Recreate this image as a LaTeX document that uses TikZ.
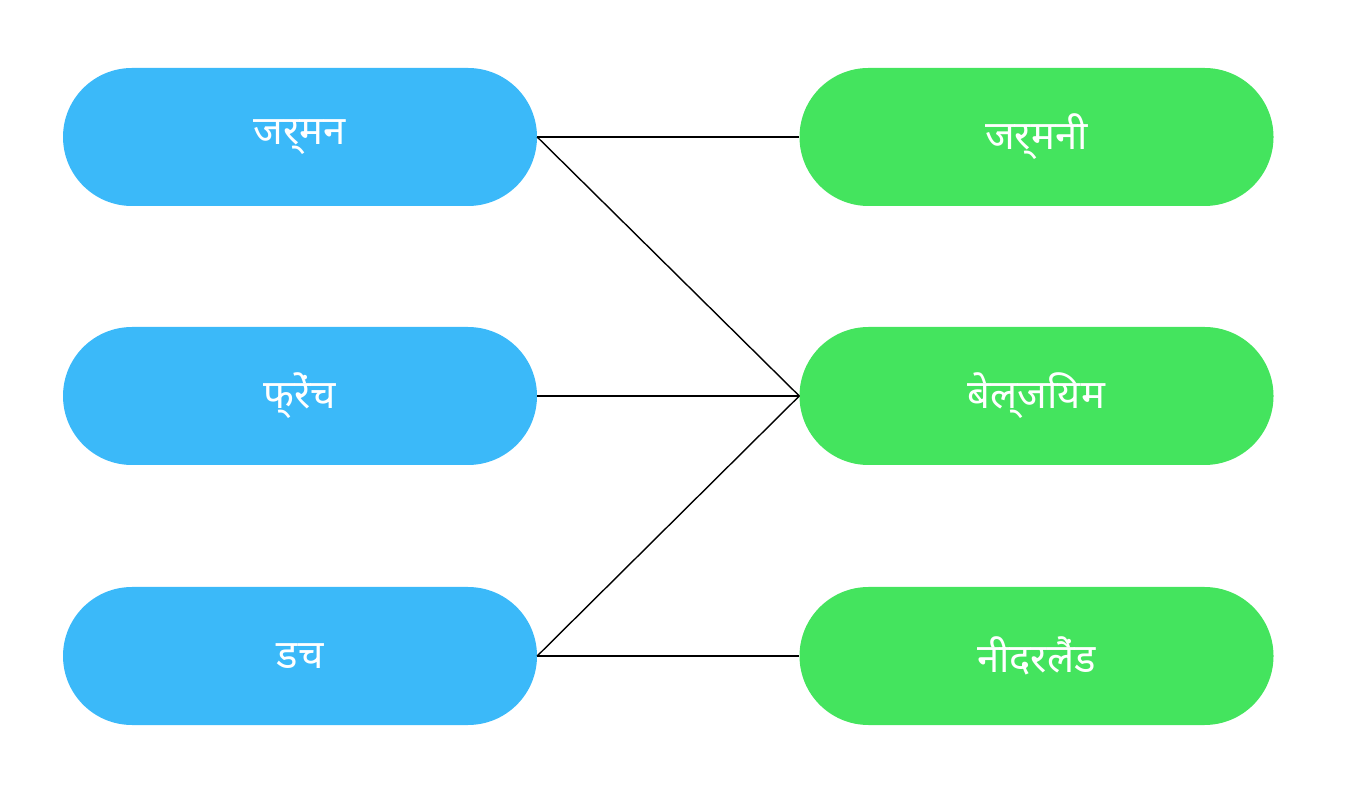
\documentclass[tikz,border=0pt]{standalone}
\usepackage{fontspec}
\setmainfont{Noto Sans}
\begin{document}
\begin{tikzpicture}[x=1pt,y=1pt,
  pill/.style={rounded corners=69pt,minimum width=474pt,minimum height=138pt,inner sep=0pt,text=white,font=\fontsize{40}{48}\selectfont},
  lang/.style={pill,fill={rgb,255:red,59;green,185;blue,249}},
  ctry/.style={pill,fill={rgb,255:red,68;green,228;blue,94}},
  link/.style={line width=1.4pt,black}]
\useasboundingbox (0,0) rectangle (1364,784);
\node[lang] (de) at (300,647) {जर्मन};
\node[lang] (fr) at (300,388) {फ्रेंच};
\node[lang] (nl) at (300,128) {डच};
\node[ctry] (ger) at (1036.5,647) {जर्मनी};
\node[ctry] (bel) at (1036.5,388) {बेल्जियम};
\node[ctry] (ned) at (1036.5,128) {नीदरलैंड};
\draw[link] (de.east) -- (ger.west);
\draw[link] (de.east) -- (bel.west);
\draw[link] (fr.east) -- (bel.west);
\draw[link] (nl.east) -- (bel.west);
\draw[link] (nl.east) -- (ned.west);
\end{tikzpicture}
\end{document}
